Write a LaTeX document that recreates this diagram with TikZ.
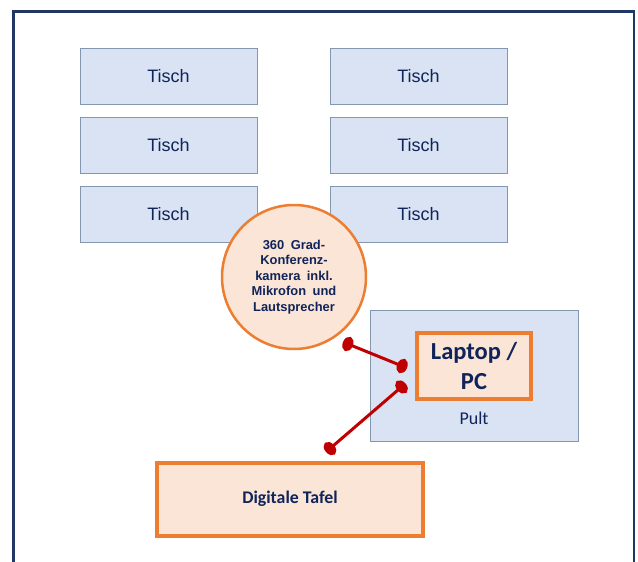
\documentclass[tikz,border=0pt]{standalone}
\usepackage{fontspec}
\setmainfont{Carlito}
\newfontfamily\arialfont{Liberation Sans}
\usetikzlibrary{arrows.meta}
\definecolor{framenavy}{RGB}{31,56,100}
\definecolor{textnavy}{RGB}{16,36,90}
\definecolor{tischfill}{RGB}{218,227,243}
\definecolor{tischdraw}{RGB}{132,151,176}
\definecolor{orng}{RGB}{237,125,49}
\definecolor{orngfill}{RGB}{251,229,214}
\definecolor{conred}{RGB}{192,0,0}
\begin{document}
\begin{tikzpicture}[x=1pt,y=-1pt,
  tisch/.style={draw=tischdraw, fill=tischfill, line width=0.8pt, minimum width=177pt, minimum height=56pt, inner sep=0pt, font=\arialfont\fontsize{18}{20}\selectfont, text=textnavy},
  orangebox/.style={draw=orng, fill=orngfill, line width=4pt, inner sep=0pt, text=textnavy, align=center},
  connector/.style={draw=conred, line width=3pt, {Ellipse[length=10.5pt,width=15pt]}-{Ellipse[length=10.5pt,width=15pt]}}
]
\clip (0,0) rectangle (638,562);
\useasboundingbox (0,0) rectangle (638,562);
\fill[white] (0,0) rectangle (638,562);
% outer frame
\draw[framenavy, line width=2.5pt] (13.5,11.5) rectangle (634,600);
% tables
\node[tisch] (t1) at (168.5,76) {Tisch};
\node[tisch] (t2) at (418.5,76) {Tisch};
\node[tisch] (t3) at (168.5,145) {Tisch};
\node[tisch] (t4) at (418.5,145) {Tisch};
\node[tisch] (t5) at (168.5,214) {Tisch};
\node[tisch] (t6) at (418.5,214) {Tisch};
% camera
\node[circle, draw=orng, fill=orngfill, line width=2.5pt, minimum size=144pt, inner sep=0pt, text=textnavy, align=center, font=\arialfont\bfseries\fontsize{12.9}{15.6}\selectfont] (cam) at (294,277) {360\enspace Grad-\\Konferenz-\\kamera\enspace inkl.\\Mikrofon\enspace und\\Lautsprecher};
% desk
\node[draw=tischdraw, fill=tischfill, line width=0.8pt, minimum width=208pt, minimum height=131pt, inner sep=0pt] (pult) at (474,375.5) {};
\node[text=textnavy, font=\fontsize{18}{20}\selectfont] (pultlabel) at (474,418) {Pult};
\node[orangebox, minimum width=114pt, minimum height=66pt, font=\bfseries\fontsize{24.5}{30}\selectfont] (lap) at (474,366) {Laptop /\\PC};
% board
\node[orangebox, minimum width=266pt, minimum height=73pt, font=\bfseries\fontsize{17.8}{20}\selectfont] (tafel) at (290,499) {Digitale Tafel};
% connector ends
\coordinate (c1a) at (343,342);
\coordinate (c1b) at (407,368);
\coordinate (c2a) at (405.5,383.5);
\coordinate (c2b) at (326,452);
\draw[connector] (c1a) -- (c1b);
\draw[connector] (c2a) -- (c2b);
\end{tikzpicture}
\end{document}
